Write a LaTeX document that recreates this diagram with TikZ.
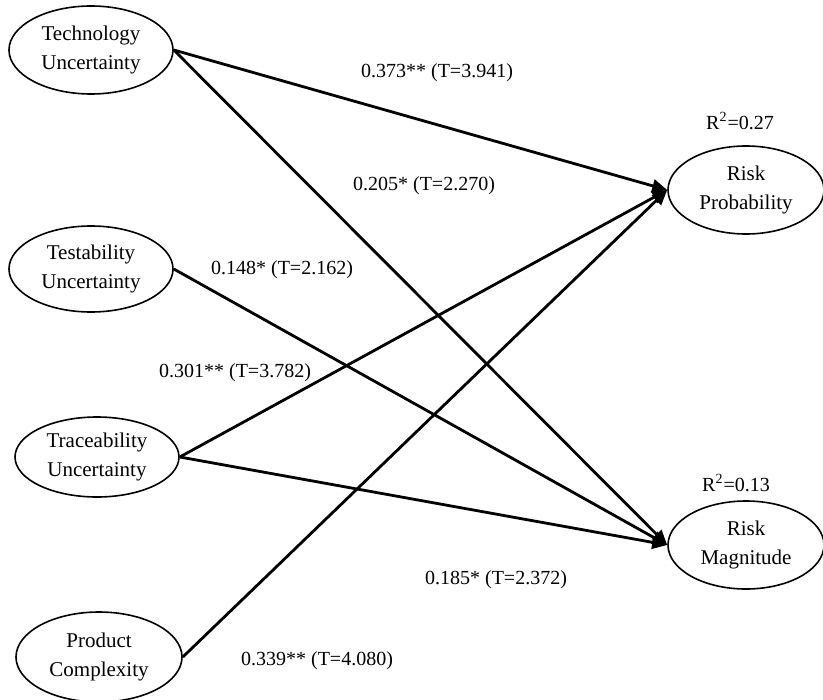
\documentclass[tikz,border=0pt]{standalone}
\usepackage{fontspec}
\setmainfont{Liberation Serif}
\usetikzlibrary{shapes.geometric,arrows.meta}
\begin{document}
\begin{tikzpicture}[x=0.5pt,y=-0.5pt,
  latent/.style={draw,line width=0.8pt,ellipse,inner sep=0pt,align=center,
    font=\fontsize{10.5}{14.5}\selectfont},
  path/.style={line width=1.4pt,-{Triangle[length=7.5pt,width=6.5pt]}},
  coef/.style={font=\fontsize{10}{12}\selectfont,inner sep=0pt}]
\useasboundingbox (0,0) rectangle (823,700);
\node[latent,minimum width=82pt,minimum height=44pt] (tech) at (91,50) {Technology\\Uncertainty};
\node[latent,minimum width=82pt,minimum height=43pt] (test) at (91,269) {Testability\\Uncertainty};
\node[latent,minimum width=82pt,minimum height=40pt] (trace) at (97,457) {Traceability\\Uncertainty};
\node[latent,minimum width=83pt,minimum height=45pt] (prod) at (99,657) {Product\\Complexity};
\node[latent,minimum width=78pt,minimum height=44pt] (prob) at (746,190) {Risk\\Probability};
\node[latent,minimum width=78pt,minimum height=44pt] (mag) at (746,545) {Risk\\Magnitude};
\node[coef] (r1) at (740,121) {R\textsuperscript{2}=0.27};
\node[coef] (r2) at (736,483) {R\textsuperscript{2}=0.13};
\draw[path] (tech.east) -- (prob.west);
\draw[path] (tech.east) -- (mag.west);
\draw[path] (test.east) -- (mag.west);
\draw[path] (trace.east) -- (prob.west);
\draw[path] (trace.east) -- (mag.west);
\draw[path] (prod.east) -- (prob.west);
\node[coef] (c1) at (437,73) {0.373** (T=3.941)};
\node[coef] (c2) at (424,186) {0.205* (T=2.270)};
\node[coef] (c3) at (282,270) {0.148* (T=2.162)};
\node[coef] (c4) at (235,373) {0.301** (T=3.782)};
\node[coef] (c5) at (496,580) {0.185* (T=2.372)};
\node[coef] (c6) at (317,661) {0.339** (T=4.080)};
\end{tikzpicture}
\end{document}
